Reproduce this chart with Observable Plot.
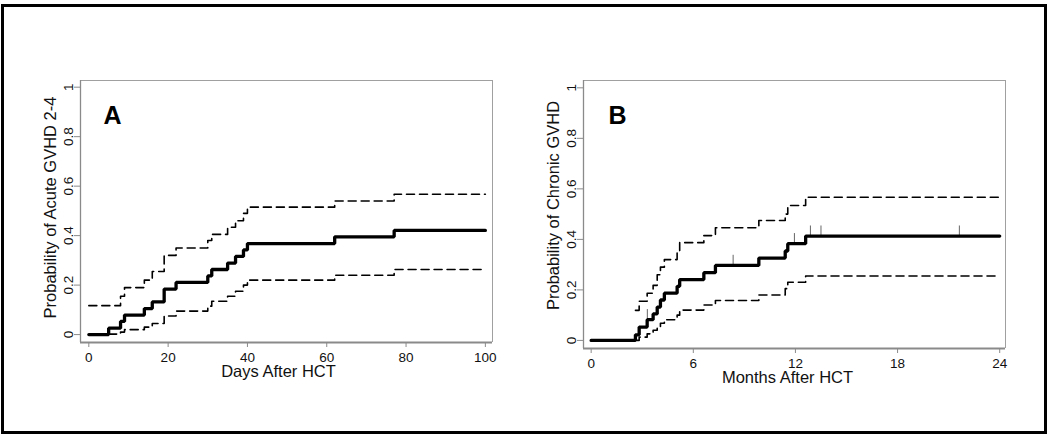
<!DOCTYPE html>
<html><head><meta charset="utf-8">
<script src="https://cdn.jsdelivr.net/npm/d3@7"></script>
<script src="https://cdn.jsdelivr.net/npm/@observablehq/plot@0.6"></script>
<style>
html,body{margin:0;padding:0;background:#fff;}
#wrap{position:relative;width:1050px;height:440px;overflow:hidden;background:#fff;}
#border{position:absolute;left:1px;top:4px;width:1046px;height:430px;border:3px solid #000;box-sizing:border-box;}
#a,#b{position:absolute;top:0;}
#a{left:0px;}
#b{left:525px;}
</style></head><body>
<div id="wrap"><div id="border"></div><div id="a"></div><div id="b"></div></div>
<script>
// ---------- Panel A: Acute GVHD 2-4 (days) ----------
const daysA   = [0, 5, 8, 9, 14, 16, 19, 22, 30, 31, 35, 37, 39, 40, 62, 77, 100];
const estA    = [0, 0.026, 0.053, 0.079, 0.105, 0.132, 0.184, 0.211, 0.237, 0.263, 0.289, 0.316, 0.342, 0.368, 0.395, 0.421, 0.421];
const upperA  = [0.117, 0.117, 0.155, 0.19, 0.22, 0.255, 0.32, 0.35, 0.38, 0.405, 0.434, 0.46, 0.49, 0.515, 0.54, 0.567, 0.567];
const lowerDaysA = [5, 8, 9, 14, 16, 19, 22, 30, 31, 35, 37, 39, 40, 62, 77, 100];
const lowerA  = [0.002, 0.01, 0.02, 0.03, 0.045, 0.075, 0.095, 0.115, 0.135, 0.155, 0.175, 0.2, 0.22, 0.24, 0.263, 0.263];
const xTicksA = [0, 20, 40, 60, 80, 100];

// ---------- Panel B: Chronic GVHD (months) ----------
const monthsB = [0, 2.6, 2.82, 3.29, 3.64, 3.88, 4.07, 4.3, 5.05, 5.2, 6.62, 7.3, 9.85, 11.4, 11.55, 12.6, 24];
const estB    = [0, 0.022, 0.053, 0.082, 0.105, 0.132, 0.16, 0.187, 0.214, 0.241, 0.268, 0.297, 0.326, 0.354, 0.383, 0.413, 0.413];
const bandMonthsB = [2.6, 2.82, 3.29, 3.64, 3.88, 4.07, 4.3, 5.05, 5.2, 6.62, 7.3, 9.85, 11.4, 11.55, 12.6, 24];
const upperB  = [0.119, 0.155, 0.187, 0.218, 0.26, 0.29, 0.32, 0.355, 0.387, 0.415, 0.446, 0.475, 0.50, 0.534, 0.567, 0.567];
const lowerB  = [0, 0.013, 0.026, 0.04, 0.055, 0.068, 0.082, 0.1, 0.12, 0.14, 0.158, 0.18, 0.205, 0.23, 0.255, 0.255];
const censorB = [3.3, 8.34, 11.94, 12.88, 13.5, 21.63];
const xTicksB = [0, 6, 12, 18, 24];

const yTicks = [0, 0.2, 0.4, 0.6, 0.8, 1];

const FONT = "'Liberation Sans', Arial, Helvetica, sans-serif";

function rows(t, v) { return t.map((x, i) => ({x, y: v[i]})); }
function valueAt(t, v, c) { let y = v[0]; t.forEach((x, i) => { if (x <= c) y = v[i]; }); return y; }

function panel(o) {
  const marks = [
    Plot.ruleX([o.xDomain[1]], {stroke: "#a0a0a0", strokeWidth: 1}),
    Plot.ruleY([o.yDomain[1]], {stroke: "#a0a0a0", strokeWidth: 1}),
    Plot.ruleX([o.xDomain[0]], {stroke: "#8a8a8a", strokeWidth: 1.3}),
    Plot.ruleY([o.yDomain[0]], {stroke: "#8a8a8a", strokeWidth: 2.2}),
    Plot.line(o.upper, {x: "x", y: "y", curve: "step-after", stroke: "#000", strokeWidth: 1.6, strokeDasharray: "8,5"}),
    Plot.line(o.lower, {x: "x", y: "y", curve: "step-after", stroke: "#000", strokeWidth: 1.6, strokeDasharray: "8,5"}),
    Plot.line(o.est, {x: "x", y: "y", curve: "step-after", stroke: "#000", strokeWidth: 3.3, strokeLinejoin: "miter"}),
    Plot.axisX({ticks: o.xTicks, tickSize: 5, tickPadding: 5, tickFormat: d => String(d), label: null,
                stroke: "#8a8a8a", fill: "#111", fontSize: 13.5}),
    Plot.axisY({ticks: yTicks, tickSize: 6, tickPadding: 2, tickRotate: -90, tickFormat: d => String(d), label: null,
                stroke: "#8a8a8a", fill: "#111", fontSize: 13.5}),
    Plot.text([o.letter], {text: d => d, frameAnchor: "top-left", dx: o.letterDx, dy: 26, textAnchor: "start",
                lineAnchor: "top", fontSize: 25, fontWeight: "bold", fill: "#000"}),
    Plot.text([o.yLabel], {text: d => d, frameAnchor: "left", rotate: -90, dx: o.yTitleDx, dy: o.yTitleDy,
                textAnchor: "middle", lineAnchor: "middle", fontSize: 16.5, fill: "#111"}),
    Plot.text([o.xLabel], {text: d => d, frameAnchor: "bottom", dx: o.xTitleDx, dy: o.xTitleDy,
                textAnchor: "middle", lineAnchor: "middle", fontSize: 16.5, fill: "#111"})
  ];
  if (o.censor) {
    marks.splice(6, 0, Plot.ruleX(o.censor, {x: "x", y1: "y", y2: d => d.y + 0.04, stroke: "#666", strokeWidth: 1}));
  }
  return Plot.plot({
    width: 525, height: 440,
    marginLeft: o.marginLeft, marginRight: o.marginRight, marginTop: 80, marginBottom: o.marginBottom,
    x: {domain: o.xDomain}, y: {domain: o.yDomain},
    style: {fontFamily: FONT, fontSize: "13.5px", background: "transparent", overflow: "visible", color: "#111"},
    marks
  });
}

document.getElementById("a").appendChild(panel({
  est: rows(daysA, estA), upper: rows(daysA, upperA), lower: rows(lowerDaysA, lowerA),
  xDomain: [-2.1, 101.8], yDomain: [-0.032, 1.027], xTicks: xTicksA,
  marginLeft: 80, marginRight: 33, marginBottom: 98,
  letter: "A", letterDx: 23,
  yLabel: "Probability of Acute GVHD 2-4", yTitleDx: -30, yTitleDy: -4,
  xLabel: "Days After HCT", xTitleDx: -8, xTitleDy: 29
}));

document.getElementById("b").appendChild(panel({
  est: rows(monthsB, estB), upper: rows(bandMonthsB, upperB), lower: rows(bandMonthsB, lowerB),
  censor: censorB.map(c => ({x: c, y: valueAt(monthsB, estB, c)})),
  xDomain: [-0.45, 24.34], yDomain: [-0.032, 1.029], xTicks: xTicksB,
  marginLeft: 58, marginRight: 45, marginBottom: 92,
  letter: "B", letterDx: 25,
  yLabel: "Probability of Chronic GVHD", yTitleDx: -30, yTitleDy: -9,
  xLabel: "Months After HCT", xTitleDx: -7, xTitleDy: 29.5
}));
</script>
</body></html>
